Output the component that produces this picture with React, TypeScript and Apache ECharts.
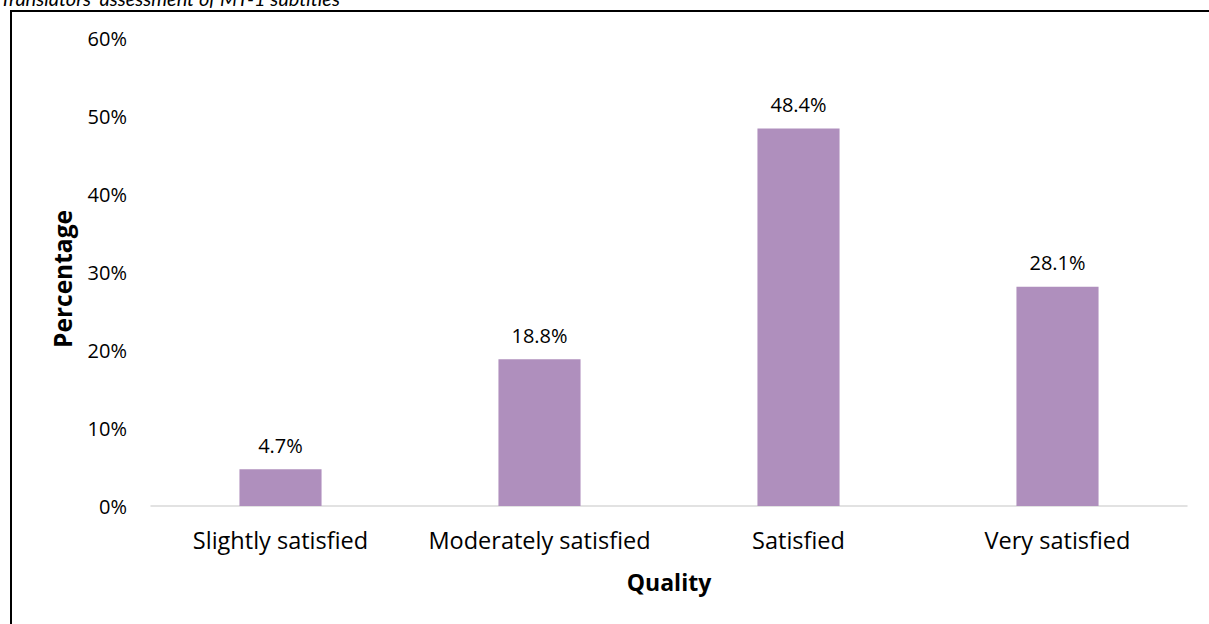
import React, { useEffect, useRef } from "react";
import * as echarts from "echarts";

const categories = ["Slightly satisfied", "Moderately satisfied", "Satisfied", "Very satisfied"];
const values = [4.7, 18.8, 48.4, 28.1];
const yTicks = [0, 10, 20, 30, 40, 50, 60];
const titleText = "Translators' assessment of MT-1 subtitles";
const xName = "Quality";
const yName = "Percentage";

const FONT = "'Open Sans', Lato, sans-serif";

export default function App() {
  const ref = useRef<HTMLDivElement>(null);
  useEffect(() => {
    if (!ref.current) return;
    const chart = echarts.init(ref.current, undefined, { renderer: "svg" });
    chart.setOption({
      animation: false,
      backgroundColor: "#ffffff",
      graphic: [
        {
          type: "rect",
          shape: { x: 11, y: 11, width: 1260, height: 700 },
          style: { fill: "none", stroke: "#000000", lineWidth: 2 },
          silent: true,
        },
        {
          type: "text",
          x: 0,
          y: 8,
          style: {
            text: titleText,
            fontFamily: "Lato, sans-serif",
            fontStyle: "italic",
            fontSize: 20,
            fill: "#000000",
            textVerticalAlign: "bottom",
            textAlign: "left",
          },
        },
      ],
      grid: { left: 151, right: 22, top: 38, bottom: 118, containLabel: false },
      xAxis: {
        type: "category",
        data: categories,
        name: xName,
        nameLocation: "middle",
        nameGap: 64,
        nameTextStyle: { fontFamily: FONT, fontSize: 23, fontWeight: "bold", color: "#000" },
        axisLine: { lineStyle: { color: "#d9d9d9", width: 1.5 } },
        axisTick: { show: false },
        axisLabel: { fontFamily: FONT, fontSize: 23.5, color: "#000", margin: 22, interval: 0 },
      },
      yAxis: {
        type: "value",
        min: yTicks[0],
        max: yTicks[yTicks.length - 1],
        interval: 10,
        name: yName,
        nameLocation: "middle",
        nameGap: 76,
        nameRotate: 90,
        nameTextStyle: {
          fontFamily: FONT,
          fontSize: 24.5,
          fontWeight: "bold",
          color: "#000",
          padding: [0, 14, 0, 0],
        },
        axisLine: { show: false },
        axisTick: { show: false },
        splitLine: { show: false },
        axisLabel: {
          fontFamily: FONT,
          fontSize: 20,
          color: "#000",
          margin: 24,
          formatter: (v: number) => `${v}%`,
        },
      },
      series: [
        {
          type: "bar",
          data: values,
          barWidth: "31.7%",
          itemStyle: { color: "#af8fbd" },
          label: {
            show: true,
            position: "top",
            distance: 14,
            fontFamily: FONT,
            fontSize: 20,
            color: "#000",
            formatter: (p: any) => `${p.value.toFixed(1)}%`,
          },
        },
      ],
    });
    return () => chart.dispose();
  }, []);
  return (
    <div
      ref={ref}
      style={{ position: "fixed", left: 0, top: 0, width: 1209, height: 624, background: "#fff" }}
    />
  );
}
